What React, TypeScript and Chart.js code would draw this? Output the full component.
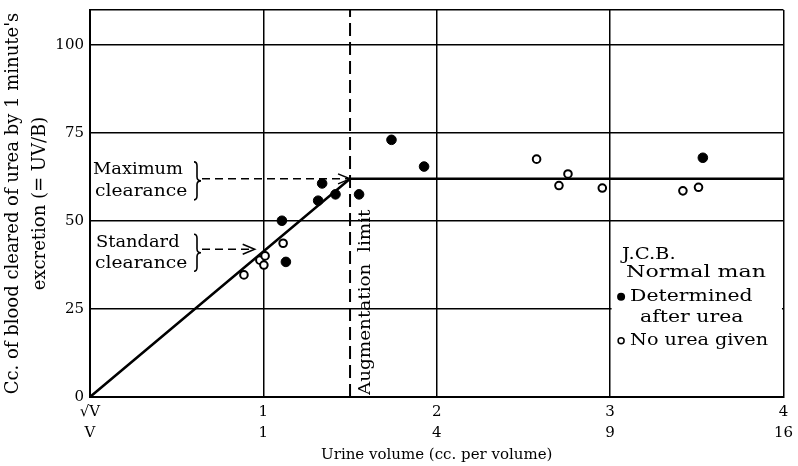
import React, { useEffect, useRef } from "react";
import { Chart, registerables } from "chart.js";

Chart.register(...registerables);

// ---- data ----
const clearanceLine = [
  { x: 0, y: 0 },
  { x: 1.5, y: 62 },
  { x: 4, y: 62 },
];
const augmentationLimit = [
  { x: 1.5, y: 0 },
  { x: 1.5, y: 110 },
];
const afterUreaX = [1.107, 1.13, 1.316, 1.339, 1.416, 1.552, 1.739, 1.927, 3.535];
const afterUreaY = [50.1, 38.4, 55.8, 60.7, 57.6, 57.6, 73.1, 65.5, 68.0];
const noUreaX = [0.888, 0.98, 1.003, 1.01, 1.114, 2.576, 2.705, 2.757, 2.955, 3.42, 3.51];
const noUreaY = [34.7, 38.9, 37.5, 40.1, 43.7, 67.6, 60.1, 63.4, 59.4, 58.6, 59.6];
const xTickTop = ["\u221AV", "1", "2", "3", "4"];
const xTickBottom = ["V", "1", "4", "9", "16"];
const yTickValues = [0, 25, 50, 75, 100];
const maxClearance = 62;
const standardPoint = { x: 0.95, y: 42 };

const FONT = "'DejaVu Serif', serif";

const annotPlugin = {
  id: "annot",
  beforeDatasetsDraw(chart: any) {
    const { ctx, chartArea } = chart;
    const x = chart.scales.x;
    const y = chart.scales.y;
    ctx.save();
    ctx.fillStyle = "#fff";
    const lx = x.getPixelForValue(3) + 1.5;
    const top = y.getPixelForValue(43);
    const bot = y.getPixelForValue(7);
    ctx.fillRect(lx, top, chartArea.right - 1.5 - lx, bot - top);
    ctx.restore();
  },
  afterDatasetsDraw(chart: any) {
    const { ctx, chartArea } = chart;
    const x = chart.scales.x;
    const y = chart.scales.y;
    const L = chartArea.left;
    ctx.save();
    ctx.fillStyle = "#000";
    ctx.strokeStyle = "#000";

    const text = (t: string, tx: number, ty: number, sx: number) => {
      ctx.save();
      ctx.translate(tx, ty);
      ctx.scale(sx, 1);
      ctx.fillText(t, 0, 0);
      ctx.restore();
    };
    const brace = (bx: number, yt: number, yb: number) => {
      const ym = (yt + yb) / 2;
      ctx.beginPath();
      ctx.lineWidth = 1.6;
      ctx.moveTo(bx - 3, yt);
      ctx.quadraticCurveTo(bx, yt, bx, yt + 4);
      ctx.lineTo(bx, ym - 4);
      ctx.quadraticCurveTo(bx, ym, bx + 4, ym);
      ctx.quadraticCurveTo(bx, ym, bx, ym + 4);
      ctx.lineTo(bx, yb - 4);
      ctx.quadraticCurveTo(bx, yb, bx - 3, yb);
      ctx.stroke();
    };
    const arrow = (x1: number, yy: number, x2: number) => {
      ctx.beginPath();
      ctx.lineWidth = 1.5;
      ctx.setLineDash([8, 5]);
      ctx.moveTo(x1, yy);
      ctx.lineTo(x2 - 2, yy);
      ctx.stroke();
      ctx.setLineDash([]);
      ctx.beginPath();
      ctx.moveTo(x2 - 12, yy - 5);
      ctx.lineTo(x2, yy);
      ctx.lineTo(x2 - 12, yy + 5);
      ctx.stroke();
    };

    ctx.font = `17px ${FONT}`;
    ctx.textAlign = "left";
    ctx.textBaseline = "middle";
    // Maximum clearance
    const ym = y.getPixelForValue(maxClearance);
    text("Maximum", L + 3, ym - 9, 1.05);
    text("clearance", L + 5, ym + 13, 1.1);
    brace(L + 107, ym - 17, ym + 21);
    arrow(L + 112, ym, x.getPixelForValue(1.5));
    // Standard clearance
    const ys = y.getPixelForValue(standardPoint.y);
    text("Standard", L + 6, ys - 7, 1.05);
    text("clearance", L + 5, ys + 14, 1.1);
    brace(L + 107, ys - 15, ys + 22);
    arrow(L + 112, ys, x.getPixelForValue(standardPoint.x));

    // Augmentation limit
    ctx.save();
    ctx.translate(x.getPixelForValue(1.5) + 16, chartArea.bottom - 2);
    ctx.rotate(-Math.PI / 2);
    ctx.textAlign = "left";
    ctx.scale(1.08, 1);
    ctx.fillText("Augmentation  limit", 0, 0);
    ctx.restore();

    // Legend
    const gx = x.getPixelForValue(3);
    ctx.font = `17px ${FONT}`;
    text("J.C.B.", gx + 12, y.getPixelForValue(40.5), 1.15);
    text("Normal man", gx + 16, y.getPixelForValue(35.5), 1.3);
    text("Determined", gx + 20, y.getPixelForValue(28.5), 1.2);
    text("after urea", gx + 30, y.getPixelForValue(22.5), 1.2);
    text("No urea given", gx + 20, y.getPixelForValue(16), 1.13);
    ctx.beginPath();
    ctx.arc(gx + 11, y.getPixelForValue(28.5), 4, 0, Math.PI * 2);
    ctx.fill();
    ctx.beginPath();
    ctx.lineWidth = 1.5;
    ctx.arc(gx + 11, y.getPixelForValue(16), 3, 0, Math.PI * 2);
    ctx.stroke();
    ctx.restore();
  },
};

export default function App() {
  const ref = useRef<HTMLCanvasElement>(null);
  useEffect(() => {
    if (!ref.current) return;
    const chart = new Chart(ref.current, {
      type: "scatter",
      data: {
        datasets: [
          {
            type: "line",
            data: clearanceLine,
            borderColor: "#000",
            borderWidth: 2.5,
            pointRadius: 0,
            order: 3,
          } as any,
          {
            type: "line",
            data: augmentationLimit,
            borderColor: "#000",
            borderWidth: 2,
            borderDash: [13, 6],
            pointRadius: 0,
            order: 4,
          } as any,
          {
            data: afterUreaX.map((v, i) => ({ x: v, y: afterUreaY[i] })),
            pointRadius: 4.8,
            pointBackgroundColor: "#000",
            pointBorderColor: "#000",
            pointBorderWidth: 1,
            order: 1,
          },
          {
            data: noUreaX.map((v, i) => ({ x: v, y: noUreaY[i] })),
            pointRadius: 3.8,
            pointBackgroundColor: "#fff",
            pointBorderColor: "#000",
            pointBorderWidth: 2,
            order: 2,
          },
        ],
      },
      options: {
        animation: false,
        responsive: false,
        layout: { padding: { left: 0, top: 10, right: 14, bottom: 0 } },
        plugins: { legend: { display: false }, tooltip: { enabled: false } },
        scales: {
          x: {
            type: "linear",
            min: 0,
            max: 4,
            afterFit: (s: any) => {
              s.height = 69;
            },
            border: { display: true, color: "#000", width: 2 },
            grid: { color: "#000", lineWidth: 1.5, drawTicks: false },
            ticks: {
              stepSize: 1,
              autoSkip: false,
              maxRotation: 0,
              padding: 5,
              color: "#000",
              font: { family: FONT, size: 15, lineHeight: 1.4 },
              callback: (v: any) => {
                const i = Math.round(Number(v));
                return Number(v) === i && i >= 0 && i < xTickTop.length
                  ? [xTickTop[i], xTickBottom[i]]
                  : "";
              },
            },
            title: {
              display: true,
              text: "Urine volume (cc. per volume)",
              color: "#000",
              font: { family: FONT, size: 15 },
              padding: { top: 0, bottom: 2 },
            },
          },
          y: {
            type: "linear",
            min: 0,
            max: 110,
            afterFit: (s: any) => {
              s.width = 90;
              s.paddingTop = 0;
              s.paddingBottom = 0;
            },
            border: { display: true, color: "#000", width: 2 },
            grid: { color: "#000", lineWidth: 1.5, drawTicks: false },
            ticks: {
              stepSize: 25,
              padding: 6,
              color: "#000",
              font: { family: FONT, size: 15 },
              callback: (v: any) => (yTickValues.includes(Number(v)) ? String(v) : ""),
            },
            title: {
              display: true,
              text: ["Cc. of blood cleared of urea by 1 minute's", "excretion (= UV/B)"],
              color: "#000",
              font: { family: FONT, size: 18, lineHeight: 1.5 },
              padding: { top: 0, bottom: 0 },
            },
          },
        },
      },
      plugins: [annotPlugin],
    });
    return () => chart.destroy();
  }, []);
  return (
    <div style={{ position: "fixed", left: 0, top: 0, width: 798, height: 466, background: "#fff" }}>
      <canvas ref={ref} width={798} height={466} style={{ display: "block" }} />
    </div>
  );
}
